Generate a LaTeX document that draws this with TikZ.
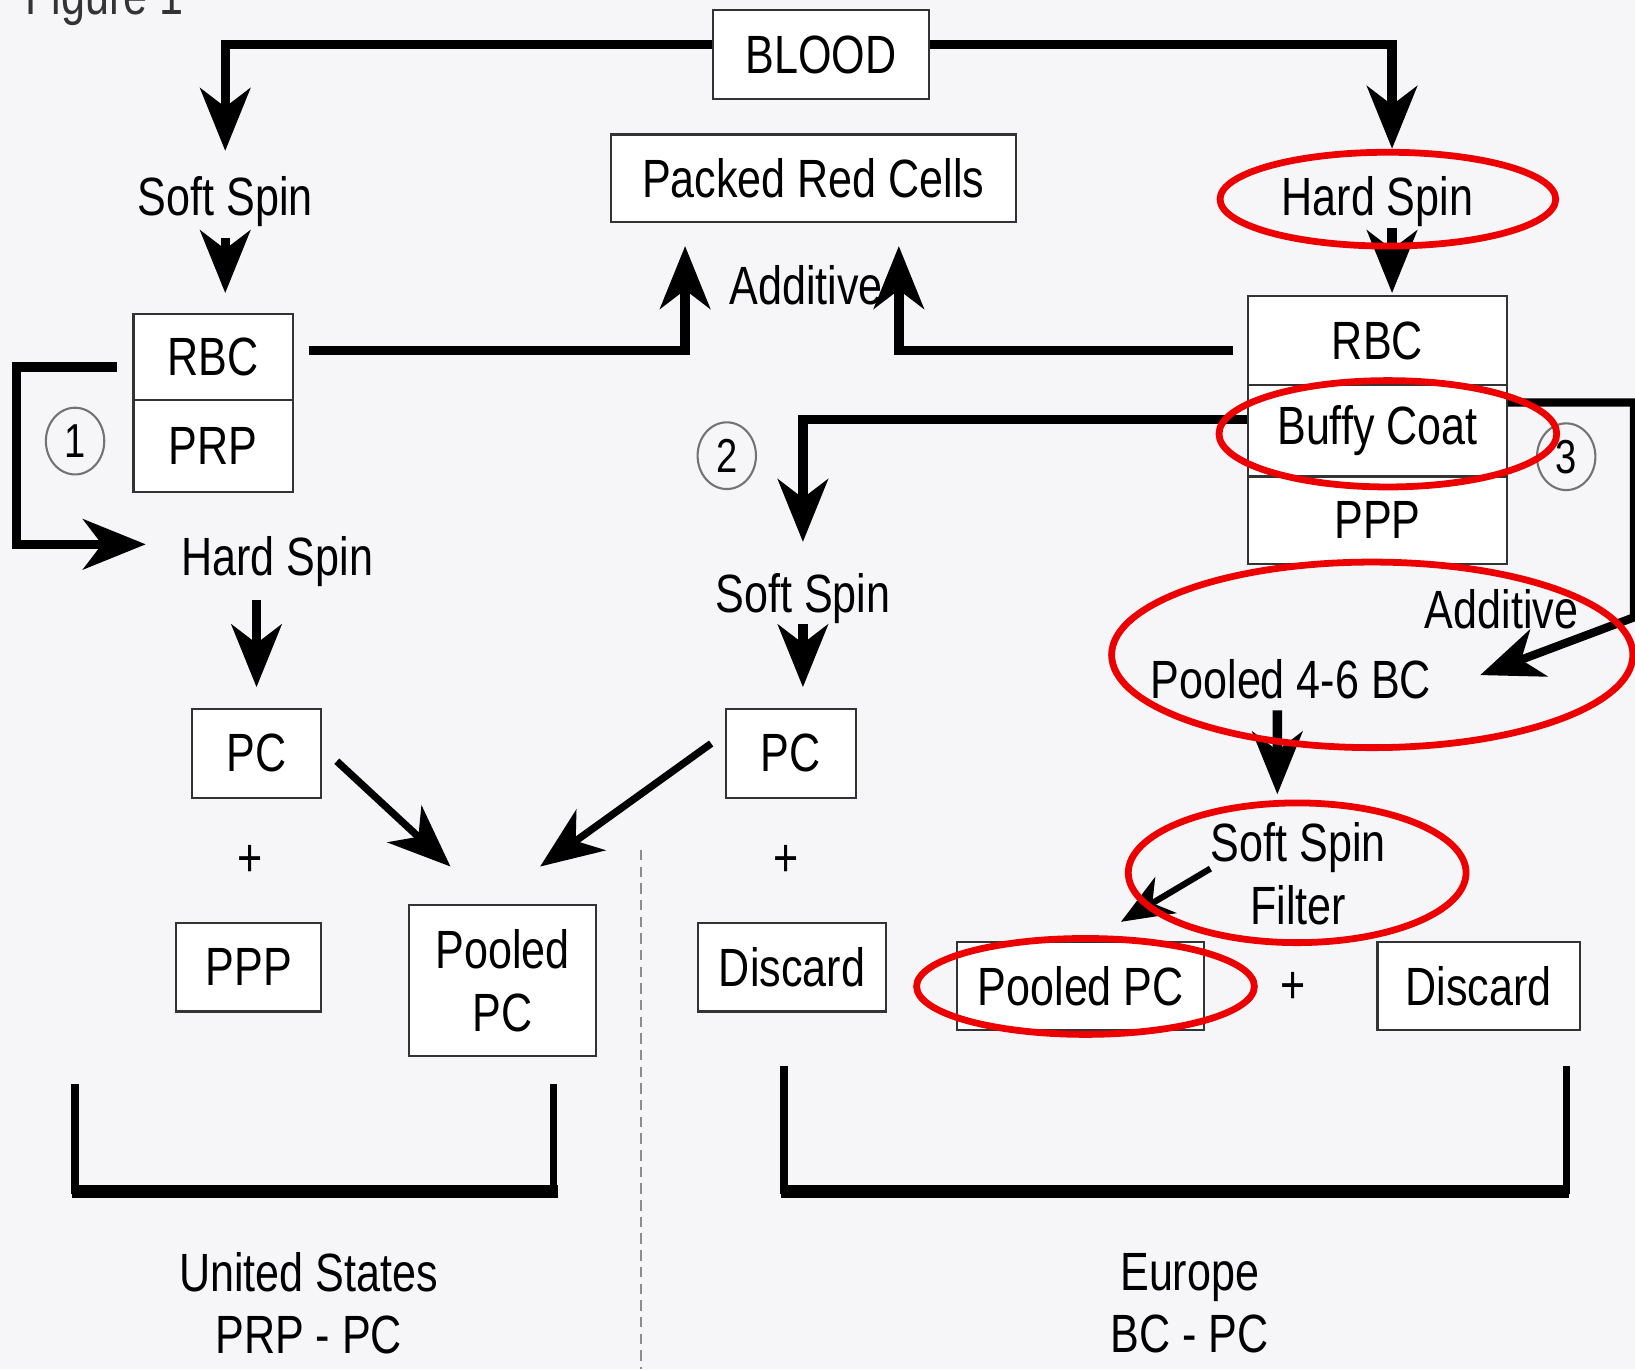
\documentclass[tikz,border=0pt]{standalone}
\usepackage{fontspec}
\newfontfamily\figfont{Liberation Sans}[FakeStretch=0.8]
\usetikzlibrary{arrows.meta,shapes.geometric}
\definecolor{paper}{RGB}{246,246,249}
\definecolor{ringred}{RGB}{236,0,0}
\tikzset{
  every node/.style={font=\figfont\fontsize{29.4pt}{34.1pt}\selectfont},
  box/.style={draw=black!80, line width=0.04cm, fill=white, inner sep=0pt},
  lbl/.style={inner sep=0pt, text height=0.74cm, text depth=0.22cm, anchor=base},
  num/.style={ellipse, draw=black!55, line width=0.04cm, minimum width=1.12cm,
    minimum height=1.28cm, inner sep=0pt, font=\figfont\fontsize{26pt}{30pt}\selectfont},
  flow/.style={line width=0.18cm, -{Stealth[length=1.2cm,width=0.96cm,inset=0.36cm]}},
  ring/.style={draw=ringred, line width=0.13cm},
  bracket/.style={line width=0.14cm},
}
\begin{document}
\begin{tikzpicture}[x=0.02cm,y=-0.02cm]
\useasboundingbox (0,0) rectangle (1568,1313);
\fill[paper] (0,0) rectangle (1568,1313);
\node[lbl, anchor=base west, text=black!80] (fig) at (24,14) {Figure 1};
% boxes
\node[box, minimum width=4.14cm, minimum height=1.7cm] (blood) at (787.5,52.5) {BLOOD};
\node[box, minimum width=7.76cm, minimum height=1.68cm] (packed) at (780,171) {Packed Red Cells};
\node[box, minimum width=3.06cm, minimum height=1.66cm] (rbcL) at (204.5,342.5) {RBC};
\node[box, minimum width=3.06cm, minimum height=1.76cm] (prpL) at (204.5,428) {PRP};
\node[box, minimum width=4.96cm, minimum height=1.7cm] (rbcR) at (1321,326.5) {RBC};
\node[box, minimum width=4.96cm, minimum height=1.76cm] (buffy) at (1321,413) {Buffy Coat};
\node[box, minimum width=4.96cm, minimum height=1.68cm] (pppR) at (1321,499) {PPP};
\node[box, minimum width=2.48cm, minimum height=1.7cm] (pcL) at (246,722.5) {PC};
\node[box, minimum width=2.78cm, minimum height=1.7cm] (pppL) at (238.5,927.5) {PPP};
\node[box, minimum width=3.6cm, minimum height=2.9cm, align=center] (pooledL) at (482,940.5) {Pooled\\PC};
\node[box, minimum width=2.5cm, minimum height=1.7cm] (pcM) at (758.5,722.5) {PC};
\node[box, minimum width=3.62cm, minimum height=1.7cm] (discardM) at (759.5,927.5) {Discard};
\node[box, minimum width=4.74cm, minimum height=1.7cm] (pooledR) at (1036.5,945.5) {Pooled PC};
\node[box, minimum width=3.88cm, minimum height=1.7cm] (discardR) at (1418,945.5) {Discard};
% labels
\node[lbl] (softL) at (216,207) {Soft Spin};
\node[lbl] (hardR) at (1321,207) {Hard Spin};
\node[lbl] (addL) at (773,292) {Additive};
\node[lbl] (hardL) at (266,552) {Hard Spin};
\node[lbl] (softM) at (770,587) {Soft Spin};
\node[lbl] (addR) at (1440,603) {Additive};
\node[lbl] (poolBC) at (1238,670) {Pooled 4-6 BC};
\node[align=center, inner sep=0pt] (filter) at (1245,838) {Soft Spin\\Filter};
\node (plusL) at (240,826) {+};
\node (plusM) at (754,826) {+};
\node (plusR) at (1240,947) {+};
\node[align=center, inner sep=0pt] (us) at (296,1250) {United States\\PRP - PC};
\node[align=center, inner sep=0pt] (eu) at (1141,1250) {Europe\\BC - PC};
\node[num] (n1) at (72,423) {1};
\node[num] (n2) at (697,437) {2};
\node[num] (n3) at (1502,438) {3};
\coordinate (hsR) at ([xshift=0.28cm]hardR.south);
% connectors
\draw[flow, shorten >=0.5cm] ([yshift=0.2cm]blood.west) -| (softL.north);
\draw[flow, shorten >=0.54cm] ([yshift=0.2cm]blood.east) -| ([xshift=0.28cm]hardR.north);
\draw[flow, shorten <=0.2cm, shorten >=0.38cm] (softL.south) -- (softL.south |- rbcL.north);
\draw[flow, shorten >=0.04cm] (hsR) -- (hsR |- rbcR.north);
\draw[flow, shorten <=0.28cm, shorten >=0.44cm] ([yshift=0.13cm]rbcL.east) -| ([xshift=-2.46cm]packed.south);
\draw[flow, shorten <=0.28cm, shorten >=0.44cm] ([yshift=-0.19cm]rbcR.west) -| ([xshift=1.64cm]packed.south);
\draw[flow, shorten <=0.3cm, shorten >=0.68cm] ([yshift=-0.19cm]rbcL.west) -- ++(-111,0) |- ([yshift=0.34cm]hardL.west);
\draw[flow, shorten <=0.24cm, shorten >=0.4cm] (pcL.north |- hardL.south) -- (pcL.north);
\draw[flow, line width=0.14cm] ([xshift=0.28cm,yshift=-0.15cm]pcL.east) -- ([xshift=-1cm,yshift=0.72cm]pooledL.north);
\draw[flow, line width=0.14cm] ([xshift=-0.26cm,yshift=0.19cm]pcM.west) -- ([xshift=0.72cm,yshift=0.72cm]pooledL.north);
\draw[flow, shorten >=0.6cm] ([yshift=0.22cm]buffy.west) -| (softM.north);
\draw[flow, shorten >=0.4cm] (softM.south) -- (softM.south |- pcM.north);
\draw[flow, line width=0.16cm, shorten >=1cm] ([yshift=0.54cm]buffy.east) -- ++(121,0) -- ++(0,206) -- ([yshift=-0.16cm]poolBC.east);
\draw[flow, shorten >=0.54cm] ([xshift=-0.26cm]poolBC.south) -- ([xshift=-0.4cm]filter.north);
\draw[flow, line width=0.12cm, -{Stealth[length=1cm,width=0.8cm,inset=0.3cm]}] ([yshift=0.1cm]filter.west) -- ([xshift=0.77cm,yshift=0.36cm]pooledR.north);
% red rings
\draw[ring] (1331,191) ellipse [x radius=3.22cm, y radius=0.9cm];
\draw[ring] (1331,416) ellipse [x radius=3.24cm, y radius=1.02cm];
\draw[ring] (1316,628) ellipse [x radius=5cm, y radius=1.78cm];
\draw[ring] (1244,837) ellipse [x radius=3.24cm, y radius=1.34cm];
\draw[ring] (1041,946) ellipse [x radius=3.24cm, y radius=0.92cm];
% brackets and divider
\draw[bracket] (72,1040) |- (531,1142) -- (531,1040);
\draw[line width=0.26cm] (69,1142.5) -- (535,1142.5);
\draw[bracket] (752,1022) |- (1502,1142) -- (1502,1022);
\draw[line width=0.26cm] (749,1142.5) -- (1505,1142.5);
\draw[black!45, line width=0.04cm, dash pattern=on 0.2cm off 0.12cm] (615,815) -- (615,1313);
\end{tikzpicture}
\end{document}
